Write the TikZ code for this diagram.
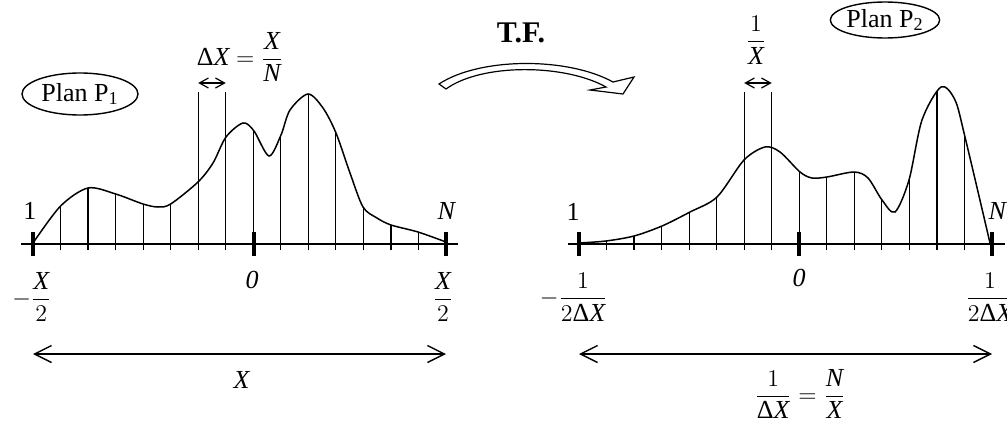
\documentclass[tikz,border=0pt]{standalone}
\usepackage{amsmath}
\usepackage{fontspec}
\setmainfont{Liberation Serif}
\usetikzlibrary{arrows.meta,shapes.geometric}
\newcommand{\vX}{\textit{X}}
\newcommand{\vN}{\textit{N}}
\newcommand{\dX}{\text{Δ}\vX}
\begin{document}
\begin{tikzpicture}[x=0.5pt,y=-0.5pt,
  font=\fontsize{13}{15.5}\selectfont,
  lbl/.style={inner sep=0pt},
  axisline/.style={line width=0.8pt},
  curveline/.style={line width=0.75pt},
  vline/.style={line width=0.6pt},
  thicktick/.style={line width=2pt},
  bigarr/.style={line width=0.7pt,{Straight Barb[length=8.5pt,width=8.5pt]}-{Straight Barb[length=8.5pt,width=8.5pt]}},
  smallarr/.style={line width=0.6pt,{Straight Barb[length=4.5pt,width=5pt]}-{Straight Barb[length=4.5pt,width=5pt]}},
  plan/.style={draw,ellipse,line width=0.7pt,minimum height=21pt,inner sep=0pt}]
\useasboundingbox (0,0) rectangle (1007,423);

% ---------------- left panel ----------------
\begin{scope}
\clip plot[smooth] coordinates {(33,243) (60.6,206) (88,188) (115.7,194) (143,204) (158,207) (170.7,204) (198,182) (213,163) (226,137) (243,123) (254,131) (269,156) (281,135) (290,110) (308,94) (323,108) (336,133) (350,173) (363,207) (377,218) (391,225) (418,232) (446,242)} -- (446,250) -- (33,250) -- cycle;
\foreach \i in {1,...,14} \draw[vline] ({33+\i*27.533},250) -- ({33+\i*27.533},60);
\end{scope}
\draw[curveline] plot[smooth] coordinates {(33,243) (60.6,206) (88,188) (115.7,194) (143,204) (158,207) (170.7,204) (198,182) (213,163) (226,137) (243,123) (254,131) (269,156) (281,135) (290,110) (308,94) (323,108) (336,133) (350,173) (363,207) (377,218) (391,225) (418,232) (446,242)};
\draw[vline] (198.2,244) -- (198.2,92);
\draw[vline] (225.7,244) -- (225.7,92);
\coordinate (la) at (198.2,83);
\coordinate (lb) at (225.7,83);
\draw[smallarr] (la) -- (lb);
\draw[axisline] (21,244) -- (458,244);
\foreach \x in {33,254,446} \draw[thicktick] (\x,232) -- (\x,256);

\node[plan,minimum width=58pt] (p1) at (80,94) {Plan P\textsubscript{1}};
\node[lbl] (dxl) at (240,57) {$\dX=\dfrac{\vX}{\vN}$};
\node[lbl] (one1) at (30,211) {1};
\node[lbl] (n1) at (447,211) {\vN};
\node[lbl,anchor=east] (mx2) at (52,297) {$-\dfrac{\vX}{2}$};
\node[lbl] (z1) at (252,280) {\textit{0}};
\node[lbl] (px2) at (443,297) {$\dfrac{\vX}{2}$};
\coordinate (bl1) at (33,354);
\coordinate (bl2) at (446,354);
\draw[bigarr] (bl1) -- (bl2);
\node[lbl] (xl) at (242,380) {\vX};

% ---------------- transform arrow ----------------
\node[lbl,font=\fontsize{15}{18}\selectfont\bfseries] (tf) at (521,33) {T.F.};
\draw[line width=0.6pt,fill=white,line join=miter]
  (439,84) .. controls (480,57) and (568,57) .. (613,82)
  -- (634,77) -- (623,94) -- (590,90) -- (606,87)
  .. controls (565,64) and (482,63) .. (446,89) -- cycle;

% ---------------- right panel ----------------
\begin{scope}
\clip plot[smooth] coordinates {(579,243) (606,241) (634,236) (662,226) (690,212) (717,197) (744,160) (765,147) (780,152) (800,172) (812,178) (827,177) (854,172) (868,178) (882,200) (895,212) (909,180) (922,120) (941,87) (955,100) (965,137) (990,243)} -- (990,250) -- (579,250) -- cycle;
\foreach \i in {1,...,14} \draw[vline] ({579+\i*27.533},250) -- ({579+\i*27.533},60);
\end{scope}
\draw[curveline] plot[smooth] coordinates {(579,243) (606,241) (634,236) (662,226) (690,212) (717,197) (744,160) (765,147) (780,152) (800,172) (812,178) (827,177) (854,172) (868,178) (882,200) (895,212) (909,180) (922,120) (941,87) (955,100) (965,137) (990,243)};
\draw[vline] (744.2,244) -- (744.2,92);
\draw[vline] (771.7,244) -- (771.7,92);
\coordinate (ra) at (744.2,83);
\coordinate (rb) at (771.7,83);
\draw[smallarr] (ra) -- (rb);
\draw[axisline] (568,244) -- (1005,244);
\foreach \x in {579,799,992} \draw[thicktick] (\x,232) -- (\x,256);

\node[plan,minimum width=50pt,minimum height=18pt] (p2) at (885,20) {Plan P\textsubscript{2}};
\node[lbl] (ix) at (756,40) {$\dfrac{1}{\vX}$};
\node[lbl] (one2) at (573,212) {1};
\node[lbl] (n2) at (998,211) {\vN};
\node[lbl,anchor=east] (m2dx) at (608,297) {$-\dfrac{1}{2\dX}$};
\node[lbl] (z2) at (799,278) {\textit{0}};
\node[lbl] (p2dx) at (990,297) {$\dfrac{1}{2\dX}$};
\coordinate (br1) at (579,354);
\coordinate (br2) at (992,354);
\draw[bigarr] (br1) -- (br2);
\node[lbl] (nx) at (800,394) {$\dfrac{1}{\dX}=\dfrac{\vN}{\vX}$};
\end{tikzpicture}
\end{document}
